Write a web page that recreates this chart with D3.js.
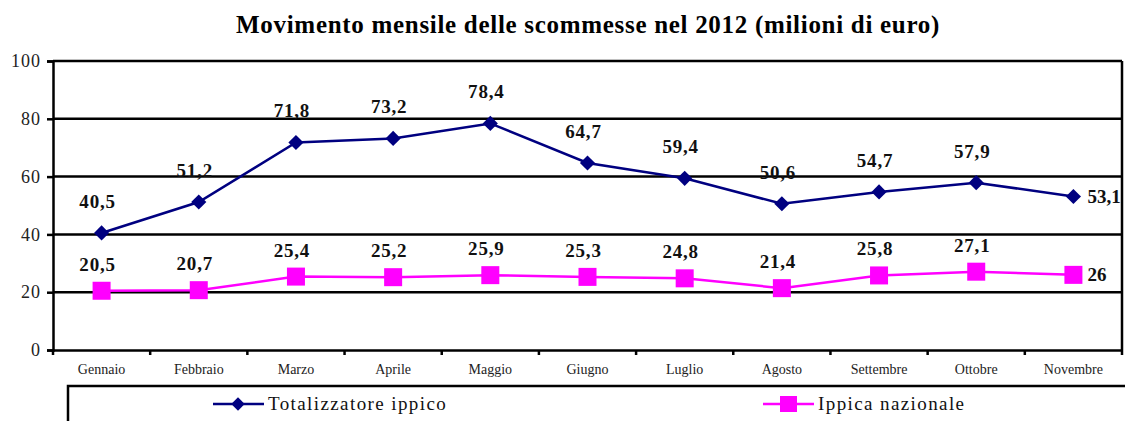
<!DOCTYPE html>
<html>
<head>
<meta charset="utf-8">
<script src="https://cdn.jsdelivr.net/npm/d3@7"></script>
<style>
  body { margin: 0; background: #fff; }
  svg text { font-family: "Liberation Serif", "Times New Roman", serif !important; }
</style>
</head>
<body>
<svg id="chart" width="1125" height="421"></svg>
<script>
// data
const months = ["Gennaio", "Febbraio", "Marzo", "Aprile", "Maggio", "Giugno",
  "Luglio", "Agosto", "Settembre", "Ottobre", "Novembre"];
const totalizzatore = [40.5, 51.2, 71.8, 73.2, 78.4, 64.7, 59.4, 50.6, 54.7, 57.9, 53.1];
const ippica = [20.5, 20.7, 25.4, 25.2, 25.9, 25.3, 24.8, 21.4, 25.8, 27.1, 26];
const yTicks = [0, 20, 40, 60, 80, 100];

const W = 1125, H = 421;
const M = { top: 61, right: 3, bottom: 71, left: 53 };

const svg = d3.select("#chart");
const fmt = v => String(v).replace(".", ",");

const x = d3.scaleBand().domain(months).range([M.left, W - M.right]);
const y = d3.scaleLinear().domain([0, 100]).range([H - M.bottom, M.top]);

// title
svg.append("text")
  .attr("x", 588).attr("y", 33)
  .attr("text-anchor", "middle")
  .attr("font-size", 25).attr("font-weight", "bold")
  .attr("letter-spacing", 0.7)
  .text("Movimento mensile delle scommesse nel 2012 (milioni di euro)");

// gridlines
svg.append("g")
  .selectAll("line")
  .data(yTicks.filter(d => d > 0))
  .join("line")
  .attr("x1", M.left).attr("x2", W - M.right)
  .attr("y1", d => y(d)).attr("y2", d => y(d))
  .attr("stroke", "#000").attr("stroke-width", 2.5);

// right border
svg.append("line")
  .attr("x1", W - M.right).attr("x2", W - M.right)
  .attr("y1", y(100)).attr("y2", y(0))
  .attr("stroke", "#000").attr("stroke-width", 2.5);

// y axis
const yAxis = svg.append("g")
  .attr("transform", `translate(${M.left},0)`)
  .call(d3.axisLeft(y).tickValues(yTicks).tickSize(6).tickPadding(6));
yAxis.selectAll("path, line").attr("stroke", "#000").attr("stroke-width", 2.5);
yAxis.selectAll("text").attr("font-size", 18).attr("letter-spacing", 1).attr("fill", "#222");

// x axis
const xAxis = svg.append("g")
  .attr("transform", `translate(0,${y(0)})`)
  .call(d3.axisBottom(x).tickSize(0).tickPadding(14));
xAxis.select(".domain").attr("stroke", "#000").attr("stroke-width", 2.5);
xAxis.selectAll("text").attr("font-size", 14).attr("fill", "#222");

// x ticks at band edges
const edges = months.map(m => x(m)).concat([x(months[months.length - 1]) + x.bandwidth()]);
svg.append("g")
  .selectAll("line")
  .data(edges)
  .join("line")
  .attr("x1", d => d).attr("x2", d => d)
  .attr("y1", y(0)).attr("y2", y(0) + 5)
  .attr("stroke", "#000").attr("stroke-width", 2.5);

const cx = m => x(m) + x.bandwidth() / 2;

// lines
const line = d3.line().x(d => cx(d.m)).y(d => y(d.v));
const blueData = months.map((m, i) => ({ m, v: totalizzatore[i] }));
const pinkData = months.map((m, i) => ({ m, v: ippica[i] }));

svg.append("path").datum(pinkData)
  .attr("d", line).attr("fill", "none")
  .attr("stroke", "#ff00ff").attr("stroke-width", 2.5);
svg.append("path").datum(blueData)
  .attr("d", line).attr("fill", "none")
  .attr("stroke", "#000080").attr("stroke-width", 2.5);

// markers
svg.append("g").selectAll("path")
  .data(blueData)
  .join("path")
  .attr("transform", d => `translate(${cx(d.m)},${y(d.v)}) rotate(45)`)
  .attr("d", d3.symbol().type(d3.symbolSquare).size(115))
  .attr("fill", "#000080");

svg.append("g").selectAll("rect")
  .data(pinkData)
  .join("rect")
  .attr("x", d => cx(d.m) - 9).attr("y", d => y(d.v) - 9)
  .attr("width", 18).attr("height", 18)
  .attr("fill", "#ff00ff");

// labels (last one sits to the right of its point)
const last = months.length - 1;
function labels(data, dy) {
  svg.append("g").selectAll("text")
    .data(data)
    .join("text")
    .attr("x", (d, i) => i === last ? cx(d.m) + 14 : cx(d.m) - 4)
    .attr("y", (d, i) => i === last ? y(d.v) + 6 : y(d.v) - dy)
    .attr("text-anchor", (d, i) => i === last ? "start" : "middle")
    .attr("font-size", 19).attr("font-weight", "bold")
    .attr("letter-spacing", (d, i) => i === last ? 0 : 0.8)
    .attr("fill", "#111")
    .text(d => fmt(d.v));
}
labels(blueData, 25);
labels(pinkData, 20);

// legend box
const lg = svg.append("g");
lg.append("path")
  .attr("d", `M68,${H + 2}V386H${W + 2}`)
  .attr("fill", "none").attr("stroke", "#000").attr("stroke-width", 2.5);

const items = [
  { name: "Totalizzatore ippico", color: "#000080", x: 213, shape: "diamond" },
  { name: "Ippica nazionale", color: "#ff00ff", x: 763, shape: "square" }
];
items.forEach(it => {
  const gy = 404;
  lg.append("line")
    .attr("x1", it.x).attr("x2", it.x + 51)
    .attr("y1", gy).attr("y2", gy)
    .attr("stroke", it.color).attr("stroke-width", 2.5);
  if (it.shape === "diamond") {
    lg.append("path")
      .attr("transform", `translate(${it.x + 25},${gy}) rotate(45)`)
      .attr("d", d3.symbol().type(d3.symbolSquare).size(90))
      .attr("fill", it.color);
  } else {
    lg.append("rect")
      .attr("x", it.x + 17).attr("y", gy - 8)
      .attr("width", 17).attr("height", 16)
      .attr("fill", it.color);
  }
  lg.append("text")
    .attr("x", it.x + 55).attr("y", gy + 6)
    .attr("font-size", 19).attr("letter-spacing", 1.4).attr("fill", "#111")
    .text(it.name);
});
</script>
</body>
</html>
